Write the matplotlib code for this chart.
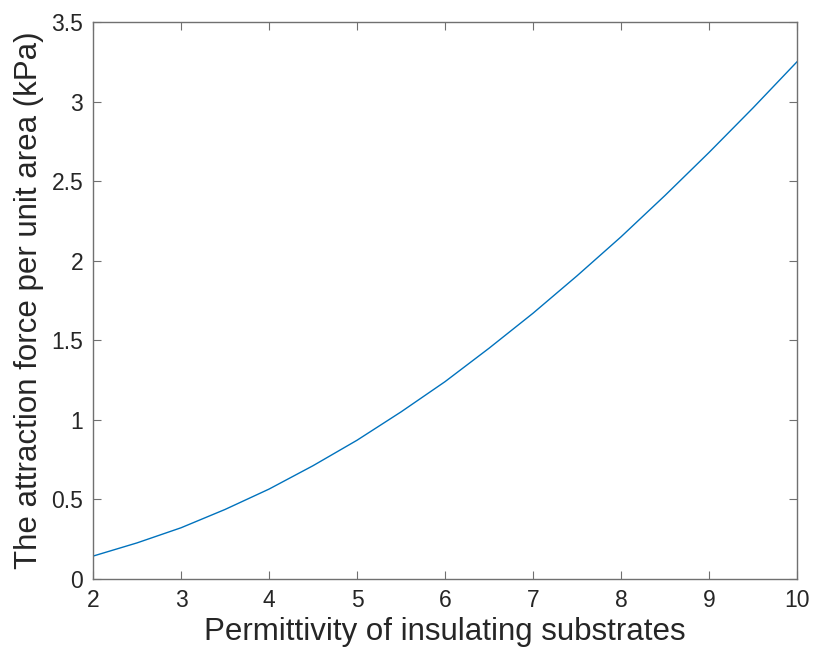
import matplotlib
matplotlib.use("Agg")
import matplotlib.pyplot as plt

# values
permittivity = [2, 2.5, 3, 3.5, 4, 4.5, 5, 5.5, 6, 6.5, 7, 7.5, 8, 8.5, 9, 9.5, 10]
force_kpa = [0.144, 0.227, 0.322, 0.437, 0.565, 0.712, 0.872, 1.05, 1.24, 1.45,
             1.67, 1.905, 2.15, 2.41, 2.68, 2.96, 3.25]

plt.rcParams['font.family'] = ['Liberation Sans', 'DejaVu Sans']

fig = plt.figure(figsize=(8.16, 6.55), dpi=100)
ax = fig.add_axes([0.114, 0.116, 0.8627, 0.8504])
ax.plot(permittivity, force_kpa, color="#0072BD", linewidth=1.0)

ax.set_xlim(2, 10)
ax.set_ylim(0, 3.5)
ax.set_xticks(range(2, 11))
ax.set_yticks([0, 0.5, 1, 1.5, 2, 2.5, 3, 3.5])
ax.set_yticklabels(["0", "0.5", "1", "1.5", "2", "2.5", "3", "3.5"])

for s in ax.spines.values():
    s.set_color("#707070")
    s.set_linewidth(1.0)
ax.tick_params(direction="in", top=True, right=True, color="#707070",
               labelcolor="#262626", labelsize=16.5, length=6, width=0.8, pad=7)

ax.set_xlabel("Permittivity of insulating substrates", fontsize=22.5,
              color="#262626", labelpad=4)
ax.set_ylabel("The attraction force per unit area (kPa)", fontsize=22.5,
              color="#262626", labelpad=5)

fig.savefig("out.png", dpi=100)
